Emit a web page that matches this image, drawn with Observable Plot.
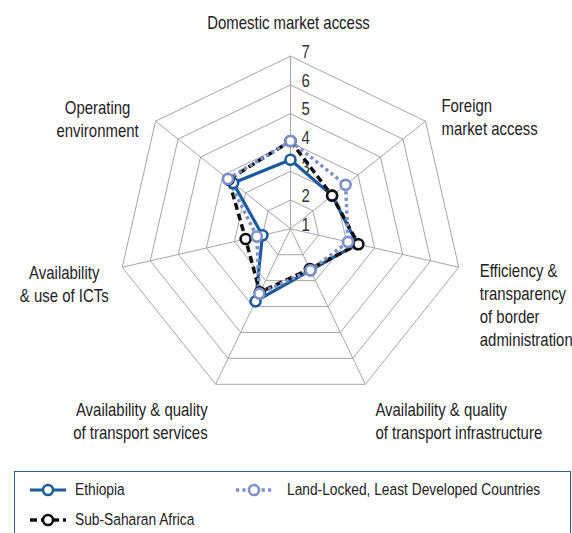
<!DOCTYPE html>
<html>
<head>
<meta charset="utf-8">
<script src="https://cdn.jsdelivr.net/npm/d3@7"></script>
<script src="https://cdn.jsdelivr.net/npm/@observablehq/plot@0.6"></script>
<style>
  body { margin: 0; background: #fff; font-family: "Liberation Sans", Arial, sans-serif; }
  #chart { position: absolute; left: 0; top: 0; }
  #legend { position: absolute; left: 14px; top: 471px; width: 557px; height: 80px; border: 1.5px solid #2b5d97; box-sizing: border-box; }
  .item { position: absolute; display: flex; align-items: center; font-size: 16.8px; color: #222; white-space: nowrap; }
  .item span { display: inline-block; transform: scaleX(0.82); transform-origin: 0 50%; }
</style>
</head>
<body>
<div id="chart"></div>
<div id="legend"></div>
<script>
// ---- data ----
const axes = [
  "Domestic market access",
  "Foreign\nmarket access",
  "Efficiency &\ntransparency\nof border\nadministration",
  "Availability & quality\nof transport infrastructure",
  "Availability & quality\nof transport services",
  "Availability\n& use of ICTs",
  "Operating\nenvironment"
];
const seriesNames = ["Ethiopia", "Sub-Saharan Africa", "Land-Locked, Least Developed Countries"];
const ethiopia = [3.4, 2.85, 3.38, 2.6, 3.8, 2.0, 3.55];
const subSaharan = [4.05, 2.85, 3.42, 2.55, 3.45, 2.6, 3.75];
const lldc = [4.05, 3.45, 3.05, 2.6, 3.5, 2.2, 3.78];
const levels = [1, 2, 3, 4, 5, 6, 7];

// ---- styles / layout (not data) ----
const colors = {"Ethiopia": "#1b5b9c", "Sub-Saharan Africa": "#111111", "Land-Locked, Least Developed Countries": "#7d90ca"};
const dashes = {"Ethiopia": null, "Sub-Saharan Africa": "7,4", "Land-Locked, Least Developed Countries": "3.2,3.2"};
const widths = {"Ethiopia": 3.2, "Sub-Saharan Africa": 3.5, "Land-Locked, Least Developed Countries": 3.5};
const labelLayout = [
  {dx: -2, dy: -44, anchor: "middle"},
  {dx: 16, dy: -26, anchor: "start"},
  {dx: 21, dy: -7, anchor: "start"},
  {dx: 10, dy: 15, anchor: "start"},
  {dx: -8, dy: 15, anchor: "end"},
  {dx: -58, dy: -5, anchor: "middle"},
  {dx: -58, dy: -24, anchor: "middle"}
];
const FONT = '"Liberation Sans", Arial, sans-serif';
const CONDENSE = 0.83;

const N = axes.length;
const minV = 1, maxV = 7;
const ang = i => i * 2 * Math.PI / N;
const px = (v, i) => (v - minV) * Math.sin(ang(i));
const py = (v, i) => (v - minV) * Math.cos(ang(i));

const rows = [];
[[seriesNames[0], ethiopia], [seriesNames[1], subSaharan], [seriesNames[2], lldc]].forEach(([name, vals]) => {
  vals.forEach((v, i) => rows.push({series: name, axis: axes[i], i, value: v, x: px(v, i), y: py(v, i)}));
});

const grid = [];
levels.filter(l => l > minV).forEach(l => {
  for (let i = 0; i <= N; i++) grid.push({level: l, x: px(l, i % N), y: py(l, i % N)});
});
const spokes = axes.map((a, i) => ({x1: 0, y1: 0, x2: px(maxV, i), y2: py(maxV, i)}));
const labels = axes.map((a, i) => ({text: a, x: px(maxV, i), y: py(maxV, i), ...labelLayout[i]}));

const R = 172.6, cx = 290, cy = 228.3;
const span = maxV - minV;

const marks = [
  Plot.line(grid, {x: "x", y: "y", z: "level", stroke: "#a6a6a6", strokeWidth: 1}),
  Plot.link(spokes, {x1: "x1", y1: "y1", x2: "x2", y2: "y2", stroke: "#a6a6a6", strokeWidth: 1}),
  Plot.text(levels, {x: () => 0, y: d => d - minV, text: d => String(d), dx: 11, dy: -4, textAnchor: "start", fontSize: 18, fill: "#333"})
];
labels.forEach(l => {
  marks.push(Plot.text([l], {x: "x", y: "y", text: "text", dx: l.dx, dy: l.dy, textAnchor: l.anchor, lineAnchor: "top", lineHeight: 1.28, fontSize: 18, fill: "#222"}));
});
seriesNames.forEach(name => {
  const d = rows.filter(r => r.series === name);
  marks.push(Plot.line(d, {x: "x", y: "y", curve: "linear-closed", stroke: colors[name], strokeWidth: widths[name], strokeDasharray: dashes[name], strokeLinecap: "butt"}));
});
seriesNames.forEach(name => {
  const d = rows.filter(r => r.series === name);
  marks.push(Plot.dot(d, {x: "x", y: "y", r: 5, fill: "white", stroke: colors[name], strokeWidth: 2.6}));
});

const chart = Plot.plot({
  width: 572,
  height: 466,
  margin: 0,
  style: {fontFamily: FONT, background: "white"},
  x: {domain: [-span, span], range: [cx - R, cx + R], axis: null},
  y: {domain: [-span, span], range: [cy + R, cy - R], axis: null},
  marks
});
// condense the text horizontally around each text's anchor point (narrow face look)
chart.querySelectorAll("text").forEach(t => {
  const tr = t.getAttribute("transform");
  if (tr) {
    t.setAttribute("transform", tr + ` scale(${CONDENSE},1)`);
  } else {
    const x = +t.getAttribute("x") || 0, y = +t.getAttribute("y") || 0;
    t.removeAttribute("x"); t.removeAttribute("y");
    t.setAttribute("transform", `translate(${x},${y}) scale(${CONDENSE},1)`);
  }
});
document.getElementById("chart").append(chart);

// ---- legend ----
const legendPos = [
  {name: seriesNames[0], left: 15, top: 8, gap: 9},
  {name: seriesNames[2], left: 221, top: 8, gap: 15},
  {name: seriesNames[1], left: 15, top: 38, gap: 9}
];
const legend = document.getElementById("legend");
legendPos.forEach(p => {
  const div = document.createElement("div");
  div.className = "item";
  div.style.left = p.left + "px";
  div.style.top = p.top + "px";
  const c = colors[p.name], dsh = dashes[p.name] ? dashes[p.name] : "none";
  div.innerHTML = `<svg width="36" height="20" style="margin-right:${p.gap}px"><line x1="0" y1="10" x2="36" y2="10" stroke="${c}" stroke-width="${widths[p.name]}" stroke-dasharray="${dsh}"/><circle cx="18" cy="10" r="5" fill="white" stroke="${c}" stroke-width="2.6"/></svg><span>${p.name}</span>`;
  legend.append(div);
});
</script>
</body>
</html>
